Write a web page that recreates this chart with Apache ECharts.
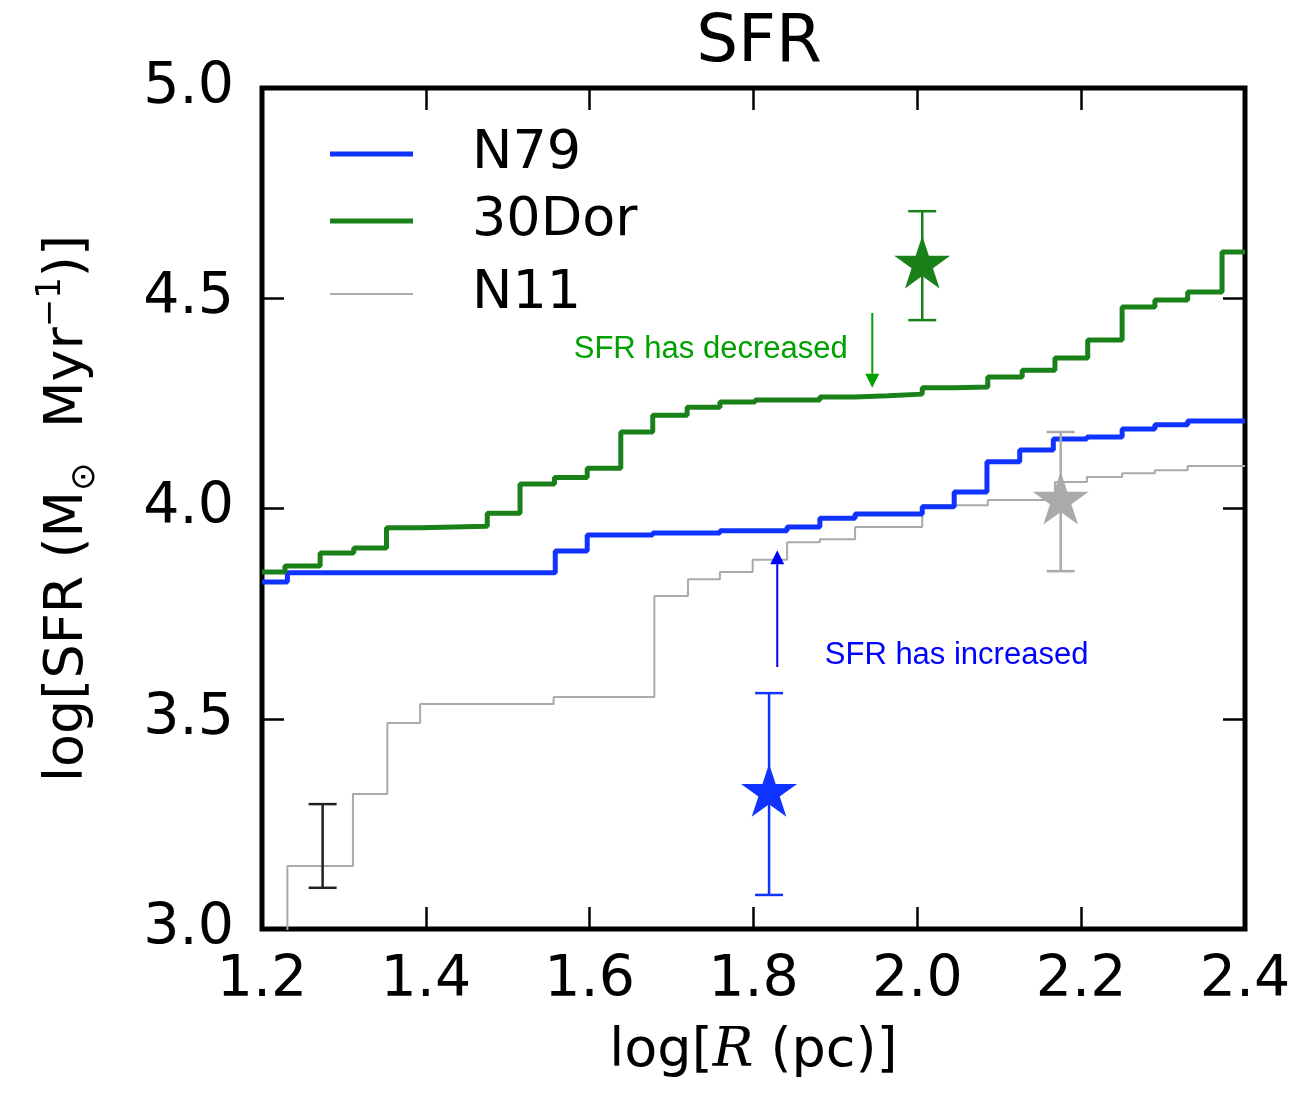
<!DOCTYPE html>
<html>
<head>
<meta charset="utf-8">
<script src="https://cdn.jsdelivr.net/npm/echarts@6/dist/echarts.min.js"></script>
<style>html,body{margin:0;padding:0;background:#fff}#chart{width:1300px;height:1095px}</style>
</head>
<body>
<div id="chart"></div>
<script>
// ---- data (log R in pc, log SFR) ----
const n79X  = [1.200, 1.231, 1.558, 1.597, 1.677, 1.759, 1.841, 1.881, 1.924, 2.006, 2.045, 2.085, 2.125, 2.166, 2.207, 2.250, 2.290, 2.330, 2.400];
const n79Y  = [3.825, 3.847, 3.899, 3.937, 3.942, 3.947, 3.956, 3.977, 3.987, 4.004, 4.039, 4.111, 4.139, 4.165, 4.170, 4.189, 4.199, 4.208, 4.208];
const dorX  = [1.200, 1.228, 1.271, 1.312, 1.352, 1.393, 1.475, 1.515, 1.557, 1.597, 1.638, 1.677, 1.719, 1.759, 1.802, 1.881, 1.924, 1.964, 2.006, 2.046, 2.086, 2.128, 2.168, 2.208, 2.250, 2.290, 2.330, 2.372, 2.400];
const dorY  = [3.849, 3.863, 3.894, 3.906, 3.954, 3.958, 3.989, 4.058, 4.074, 4.096, 4.182, 4.222, 4.241, 4.253, 4.258, 4.265, 4.268, 4.272, 4.287, 4.289, 4.313, 4.329, 4.358, 4.401, 4.479, 4.496, 4.515, 4.610, 4.610];
const n11X  = [1.200, 1.231, 1.311, 1.353, 1.393, 1.556, 1.679, 1.720, 1.759, 1.799, 1.841, 1.881, 1.924, 2.006, 2.086, 2.168, 2.207, 2.250, 2.290, 2.330, 2.400];
const n11Y  = [2.900, 3.150, 3.321, 3.490, 3.535, 3.552, 3.792, 3.832, 3.849, 3.878, 3.920, 3.927, 3.956, 4.008, 4.020, 4.063, 4.075, 4.084, 4.091, 4.101, 4.101];

// star points with error bars: [x, y, low, high]
const n79Star = [1.819, 3.323, 3.081, 3.561];
const dorStar = [2.006, 4.579, 4.448, 4.707];
const n11Star = [2.175, 4.018, 3.851, 4.182];
// typical-uncertainty bar (no marker): [x, low, high]
const refBar  = [1.274, 3.098, 3.297];

// annotation arrows: [x, yFrom, yTo]
const arrowDec = [1.945, 4.465, 4.287];
const arrowInc = [1.829, 3.623, 3.901];
// annotation texts: [x, y]
const textDec = [1.915, 4.379];
const textInc = [1.887, 3.650];

const C_BLUE = '#1133ff', C_GREEN = '#1a801a', C_GRAY = '#aaaaaa';
const STAR = 'path://M0,-1 L0.2245,-0.309 L0.951,-0.309 L0.363,0.118 L0.588,0.809 L0,0.382 L-0.588,0.809 L-0.363,0.118 L-0.951,-0.309 L-0.2245,-0.309 Z';

function zip(xs, ys){ return xs.map((x,i)=>[x, ys[i]]); }

function errRender(color){
  return function(params, api){
    const x = api.value(0), lo = api.value(1), hi = api.value(2);
    const t = api.coord([x, hi]), b = api.coord([x, lo]);
    const cap = 14, st = {stroke: color, lineWidth: 2.5};
    return {type:'group', children:[
      {type:'line', shape:{x1:t[0], y1:t[1], x2:b[0], y2:b[1]}, style:st},
      {type:'line', shape:{x1:t[0]-cap, y1:t[1], x2:t[0]+cap, y2:t[1]}, style:st},
      {type:'line', shape:{x1:b[0]-cap, y1:b[1], x2:b[0]+cap, y2:b[1]}, style:st}
    ]};
  };
}
function arrowRender(color){
  return function(params, api){
    const x = api.value(0), y0 = api.value(1), y1 = api.value(2);
    const a = api.coord([x, y0]), b = api.coord([x, y1]);
    const dir = b[1] > a[1] ? 1 : -1, hl = 14, hw = 7;
    return {type:'group', children:[
      {type:'line', shape:{x1:a[0], y1:a[1], x2:b[0], y2:b[1]-dir*hl}, style:{stroke:color, lineWidth:2}},
      {type:'polygon', shape:{points:[[b[0],b[1]],[b[0]-hw,b[1]-dir*hl],[b[0]+hw,b[1]-dir*hl]]}, style:{fill:color}}
    ]};
  };
}
function textRender(txt, color, align){
  return function(params, api){
    const p = api.coord([api.value(0), api.value(1)]);
    return {type:'text', x:p[0], y:p[1], style:{text:txt, fill:color, align:align, verticalAlign:'middle',
      font:'31px "Liberation Sans", Arial, sans-serif'}};
  };
}

const axisFont = '"DejaVu Sans", sans-serif';
const xBase = {type:'value', min:1.2, max:2.4, interval:0.2, splitLine:{show:false}, axisLine:{show:false},
  axisTick:{show:true, inside:true, length:22, lineStyle:{color:'#000', width:2.5}}};
const yBase = {type:'value', min:3.0, max:5.0, interval:0.5, splitLine:{show:false}, axisLine:{show:false},
  axisTick:{show:true, inside:true, length:22, lineStyle:{color:'#000', width:2.5}}};
const legendText = {fontFamily:axisFont, fontSize:54, color:'#000', lineHeight:50, padding:[0,0,0,54]};

const option = {
  animation:false,
  backgroundColor:'#fff',
  title:{text:'SFR', left:754, textAlign:'center', top:6,
    textStyle:{fontFamily:axisFont, fontSize:66, fontWeight:'normal', color:'#000'}},
  grid:{left:262, right:55, top:88, bottom:166, show:true, borderColor:'#000', borderWidth:5, backgroundColor:'transparent'},
  legend:[
    {orient:'vertical', left:325, top:122, itemWidth:83, itemHeight:5, itemGap:13, icon:'rect',
      textStyle:legendText, data:['N79','30Dor']},
    {orient:'vertical', left:325, top:262, itemWidth:83, itemHeight:2, itemGap:13, icon:'rect',
      textStyle:legendText, data:['N11']}
  ],
  xAxis:[
    Object.assign({}, xBase, {position:'bottom',
      axisLabel:{show:true, margin:24, fontFamily:axisFont, fontSize:57, color:'#000', formatter:v=>v.toFixed(1)},
      name:'{a|log[}{r|R}{a| (pc)]}', nameLocation:'middle', nameGap:96,
      nameTextStyle:{rich:{a:{fontFamily:axisFont, fontSize:54, color:'#000'},
                           r:{fontFamily:'"DejaVu Serif", serif', fontStyle:'italic', fontSize:54, color:'#000'}}}}),
    Object.assign({}, xBase, {position:'top', axisLabel:{show:false}})
  ],
  yAxis:[
    Object.assign({}, yBase, {position:'left',
      axisLabel:{show:true, margin:28, fontFamily:axisFont, fontSize:57, color:'#000', formatter:v=>v.toFixed(1)},
      name:'{a|log[SFR (M}{sub|⊙}{a|  Myr}{sup|−1}{a|)]}', nameLocation:'middle', nameGap:160, nameRotate:90,
      nameTextStyle:{rich:{
        a:{fontFamily:axisFont, fontSize:54, color:'#000', lineHeight:68},
        sub:{fontFamily:axisFont, fontSize:34, color:'#000', verticalAlign:'bottom', lineHeight:68},
        sup:{fontFamily:axisFont, fontSize:34, color:'#000', verticalAlign:'top', lineHeight:68}}}}),
    Object.assign({}, yBase, {position:'right', axisLabel:{show:false}})
  ],
  series:[
    {name:'N11', type:'line', step:'end', symbol:'none', clip:true, data:zip(n11X, n11Y), z:2,
      lineStyle:{color:C_GRAY, width:2}, itemStyle:{color:C_GRAY}},
    {name:'N79', type:'line', step:'end', symbol:'none', clip:true, data:zip(n79X, n79Y), z:3,
      lineStyle:{color:C_BLUE, width:5}, itemStyle:{color:C_BLUE}},
    {name:'30Dor', type:'line', step:'end', symbol:'none', clip:true, data:zip(dorX, dorY), z:3,
      lineStyle:{color:C_GREEN, width:5}, itemStyle:{color:C_GREEN}},
    {type:'custom', renderItem:errRender(C_BLUE), data:[[n79Star[0], n79Star[2], n79Star[3]]], z:4},
    {type:'custom', renderItem:errRender(C_GREEN), data:[[dorStar[0], dorStar[2], dorStar[3]]], z:4},
    {type:'custom', renderItem:errRender(C_GRAY), data:[[n11Star[0], n11Star[2], n11Star[3]]], z:4},
    {type:'custom', renderItem:errRender('#222'), data:[refBar], z:4},
    {type:'scatter', symbol:STAR, symbolSize:[56,53], symbolOffset:[0,-3], data:[[n79Star[0], n79Star[1]]], itemStyle:{color:C_BLUE, opacity:1}, z:5},
    {type:'scatter', symbol:STAR, symbolSize:[56,53], symbolOffset:[0,-3], data:[[dorStar[0], dorStar[1]]], itemStyle:{color:C_GREEN, opacity:1}, z:5},
    {type:'scatter', symbol:STAR, symbolSize:[56,53], symbolOffset:[0,-3], data:[[n11Star[0], n11Star[1]]], itemStyle:{color:C_GRAY, opacity:1}, z:5},
    {type:'custom', renderItem:arrowRender('#00a000'), data:[arrowDec], z:6},
    {type:'custom', renderItem:arrowRender('#0000ff'), data:[arrowInc], z:6},
    {type:'custom', renderItem:textRender('SFR has decreased', '#00a000', 'right'), data:[textDec], z:6},
    {type:'custom', renderItem:textRender('SFR has increased', '#0000ff', 'left'), data:[textInc], z:6}
  ]
};
const chart = echarts.init(document.getElementById('chart'), null, {renderer:'canvas'});
chart.setOption(option);
</script>
</body>
</html>
